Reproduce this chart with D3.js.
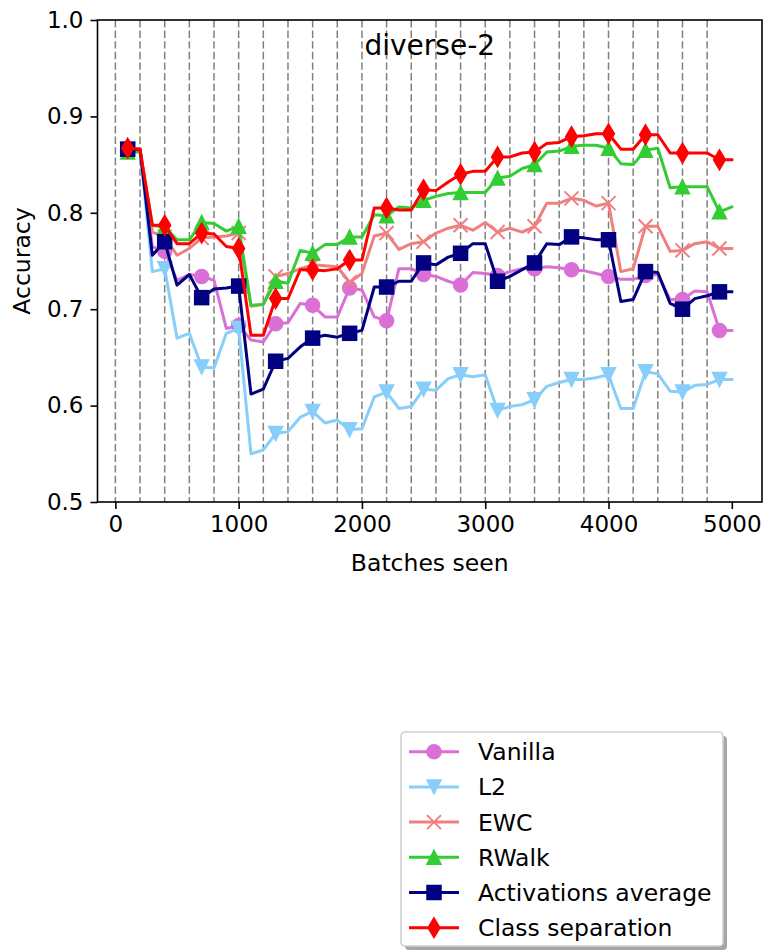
<!DOCTYPE html>
<html>
<head>
<meta charset="utf-8">
<script src="https://cdn.jsdelivr.net/npm/d3@7"></script>
<style>
  html, body { margin: 0; padding: 0; background: #fff; }
  svg { display: block; font-family: "DejaVu Sans", sans-serif; }
</style>
</head>
<body>
<svg id="chart" width="764" height="951"></svg>
<script>
// ---------- data ----------
const batches = [100,200,300,400,500,600,700,800,900,1000,
  1100,1200,1300,1400,1500,1600,1700,1800,1900,2000,
  2100,2200,2300,2400,2500,2600,2700,2800,2900,3000,
  3100,3200,3300,3400,3500,3600,3700,3800,3900,4000,
  4100,4200,4300,4400,4500,4600,4700,4800,4900,5000];

const vanilla = [0.866,0.866,0.765,0.760,0.730,0.736,0.734,0.730,0.680,0.683,
  0.668,0.666,0.685,0.686,0.706,0.704,0.692,0.692,0.722,0.720,
  0.692,0.688,0.742,0.742,0.736,0.734,0.729,0.725,0.738,0.737,
  0.735,0.739,0.742,0.742,0.744,0.743,0.741,0.740,0.737,0.734,
  0.731,0.731,0.735,0.736,0.710,0.710,0.719,0.718,0.678,0.678];

const l2 = [0.866,0.866,0.739,0.742,0.670,0.675,0.640,0.639,0.675,0.680,
  0.550,0.554,0.571,0.573,0.588,0.594,0.582,0.585,0.575,0.576,
  0.609,0.614,0.597,0.599,0.617,0.616,0.628,0.632,0.630,0.632,
  0.595,0.599,0.601,0.606,0.620,0.624,0.627,0.627,0.629,0.632,
  0.597,0.597,0.635,0.633,0.615,0.614,0.621,0.622,0.627,0.627];

const ewc = [0.866,0.866,0.780,0.775,0.756,0.763,0.774,0.775,0.776,0.779,
  0.703,0.705,0.734,0.737,0.742,0.746,0.745,0.744,0.728,0.737,
  0.776,0.779,0.762,0.768,0.770,0.779,0.784,0.787,0.782,0.790,
  0.780,0.784,0.780,0.786,0.810,0.810,0.815,0.813,0.807,0.810,
  0.739,0.742,0.786,0.786,0.760,0.761,0.768,0.770,0.763,0.763];

const rwalk = [0.863,0.863,0.787,0.785,0.772,0.772,0.790,0.789,0.781,0.786,
  0.704,0.705,0.729,0.727,0.761,0.758,0.767,0.767,0.775,0.775,
  0.798,0.797,0.806,0.805,0.813,0.817,0.820,0.821,0.821,0.821,
  0.836,0.838,0.846,0.850,0.863,0.864,0.869,0.870,0.870,0.867,
  0.851,0.850,0.865,0.867,0.826,0.827,0.827,0.827,0.801,0.806];

const activations = [0.866,0.866,0.756,0.770,0.725,0.736,0.712,0.721,0.722,0.724,
  0.612,0.617,0.646,0.649,0.661,0.670,0.673,0.671,0.675,0.678,
  0.723,0.723,0.729,0.729,0.748,0.746,0.754,0.758,0.768,0.768,
  0.729,0.734,0.741,0.748,0.768,0.767,0.775,0.774,0.772,0.772,
  0.708,0.710,0.739,0.738,0.706,0.700,0.711,0.714,0.718,0.718];

const classSep = [0.867,0.866,0.787,0.787,0.768,0.768,0.779,0.778,0.765,0.763,
  0.673,0.673,0.711,0.711,0.741,0.741,0.740,0.742,0.751,0.751,
  0.805,0.805,0.803,0.803,0.824,0.823,0.832,0.840,0.843,0.843,
  0.858,0.858,0.862,0.863,0.872,0.873,0.879,0.880,0.882,0.882,
  0.866,0.866,0.881,0.881,0.862,0.862,0.862,0.862,0.855,0.855];

const seriesNames = ["Vanilla","L2","EWC","RWalk","Activations average","Class separation"];
const seriesValues = [vanilla, l2, ewc, rwalk, activations, classSep];
const seriesColors = ["#DA70D6","#87CEFA","#F08080","#32CD32","#000080","#FF0000"];
const seriesMarkers = ["circle","triDown","x","triUp","square","thinDiamond"];

const taskBoundaries = [0,200,400,600,800,1000,1200,1400,1600,1800,2000,2200,2400,
  2600,2800,3000,3200,3400,3600,3800,4000,4200,4400,4600,4800];
const xTicks = [0,1000,2000,3000,4000,5000];
const yTicks = [0.5,0.6,0.7,0.8,0.9,1.0];
const titleText = "diverse-2";
const xLabel = "Batches seen";
const yLabel = "Accuracy";
const markerEvery = 3;

// ---------- layout ----------
const L = 97.5, R = 762, T = 20, B = 502;
const svg = d3.select("#chart");
const x = d3.scaleLinear().domain([-145, 5245]).range([L, R]);
const y = d3.scaleLinear().domain([0.5, 1.0]).range([B, T]);

svg.append("defs").append("clipPath").attr("id","plotclip")
  .append("rect").attr("x",L).attr("y",T).attr("width",R-L).attr("height",B-T);

// task boundary dashed lines
svg.append("g").selectAll("line").data(taskBoundaries).join("line")
  .attr("x1", d => x(d)).attr("x2", d => x(d))
  .attr("y1", T).attr("y2", B)
  .attr("stroke", "#808080").attr("stroke-width", 1.5)
  .attr("stroke-dasharray", "7.4,3.2");

// marker drawing
const M = 14;
function drawMarker(g, type, color, cx, cy) {
  const h = M/2;
  if (type === "circle") {
    g.append("circle").attr("cx",cx).attr("cy",cy).attr("r",h)
      .attr("fill",color).attr("stroke",color).attr("stroke-width",1.5);
  } else if (type === "square") {
    g.append("rect").attr("x",cx-h).attr("y",cy-h).attr("width",M).attr("height",M)
      .attr("fill",color).attr("stroke",color).attr("stroke-width",1.5);
  } else if (type === "triUp") {
    g.append("path").attr("d",`M${cx},${cy-h}L${cx+h},${cy+h}L${cx-h},${cy+h}Z`)
      .attr("fill",color).attr("stroke",color).attr("stroke-width",1.5);
  } else if (type === "triDown") {
    g.append("path").attr("d",`M${cx},${cy+h}L${cx+h},${cy-h}L${cx-h},${cy-h}Z`)
      .attr("fill",color).attr("stroke",color).attr("stroke-width",1.5);
  } else if (type === "x") {
    g.append("path").attr("d",`M${cx-h},${cy-h}L${cx+h},${cy+h}M${cx-h},${cy+h}L${cx+h},${cy-h}`)
      .attr("fill","none").attr("stroke",color).attr("stroke-width",2);
  } else if (type === "thinDiamond") {
    const hh = M*0.707, hw = M*0.707*0.6;
    g.append("path").attr("d",`M${cx},${cy-hh}L${cx+hw},${cy}L${cx},${cy+hh}L${cx-hw},${cy}Z`)
      .attr("fill",color).attr("stroke",color).attr("stroke-width",1.5);
  }
}

const line = d3.line().x((d,i) => x(batches[i])).y(d => y(d));
const plotG = svg.append("g");
seriesValues.forEach((vals, si) => {
  const g = plotG.append("g");
  g.append("path").datum(vals).attr("d", line)
    .attr("fill","none").attr("stroke",seriesColors[si]).attr("stroke-width",3)
    .attr("stroke-linejoin","round").attr("stroke-linecap","square")
    .attr("clip-path","url(#plotclip)");
  vals.forEach((v, i) => {
    if (i % markerEvery === 0) drawMarker(g, seriesMarkers[si], seriesColors[si], x(batches[i]), y(v));
  });
});

// frame
svg.append("rect").attr("x",L).attr("y",T).attr("width",R-L).attr("height",B-T)
  .attr("fill","none").attr("stroke","#000").attr("stroke-width",1.6);

// axes
const xAxis = svg.append("g").attr("transform",`translate(0,${B})`)
  .call(d3.axisBottom(x).tickValues(xTicks).tickFormat(d3.format("d")).tickSize(7).tickPadding(7));
const yAxis = svg.append("g").attr("transform",`translate(${L},0)`)
  .call(d3.axisLeft(y).tickValues(yTicks).tickFormat(d3.format(".1f")).tickSize(7).tickPadding(7));
[xAxis, yAxis].forEach(a => {
  a.select(".domain").remove();
  a.selectAll(".tick line").attr("stroke","#000").attr("stroke-width",1.6);
  a.selectAll(".tick text").attr("fill","#000").style("font-size","23px")
    .style("font-family","'DejaVu Sans', sans-serif");
});

// title and labels
svg.append("text").attr("x",(L+R)/2).attr("y",55).attr("text-anchor","middle")
  .style("font-size","28px").text(titleText);
svg.append("text").attr("x",(L+R)/2).attr("y",571).attr("text-anchor","middle")
  .style("font-size","23.5px").text(xLabel);
svg.append("text").attr("transform",`translate(30,${(T+B)/2}) rotate(-90)`)
  .attr("text-anchor","middle").style("font-size","23.5px").text(yLabel);

// legend
const lgX = 401, lgY = 732, lgW = 322, lgH = 214;
const lg = svg.append("g");
lg.append("rect").attr("x",lgX+4).attr("y",lgY+4).attr("width",lgW).attr("height",lgH)
  .attr("rx",4).attr("fill","#000").attr("opacity",0.35);
lg.append("rect").attr("x",lgX).attr("y",lgY).attr("width",lgW).attr("height",lgH)
  .attr("rx",4).attr("fill","#fff").attr("stroke","#d0d0d0").attr("stroke-width",1.6);
seriesNames.forEach((name, i) => {
  const cy = 751.7 + i*35.2;
  const g = lg.append("g");
  g.append("line").attr("x1",409).attr("x2",459).attr("y1",cy).attr("y2",cy)
    .attr("stroke",seriesColors[i]).attr("stroke-width",3);
  drawMarker(g, seriesMarkers[i], seriesColors[i], 434, cy);
  g.append("text").attr("x",478).attr("y",cy+8.5).style("font-size","23.5px").text(name);
});
</script>
</body>
</html>
